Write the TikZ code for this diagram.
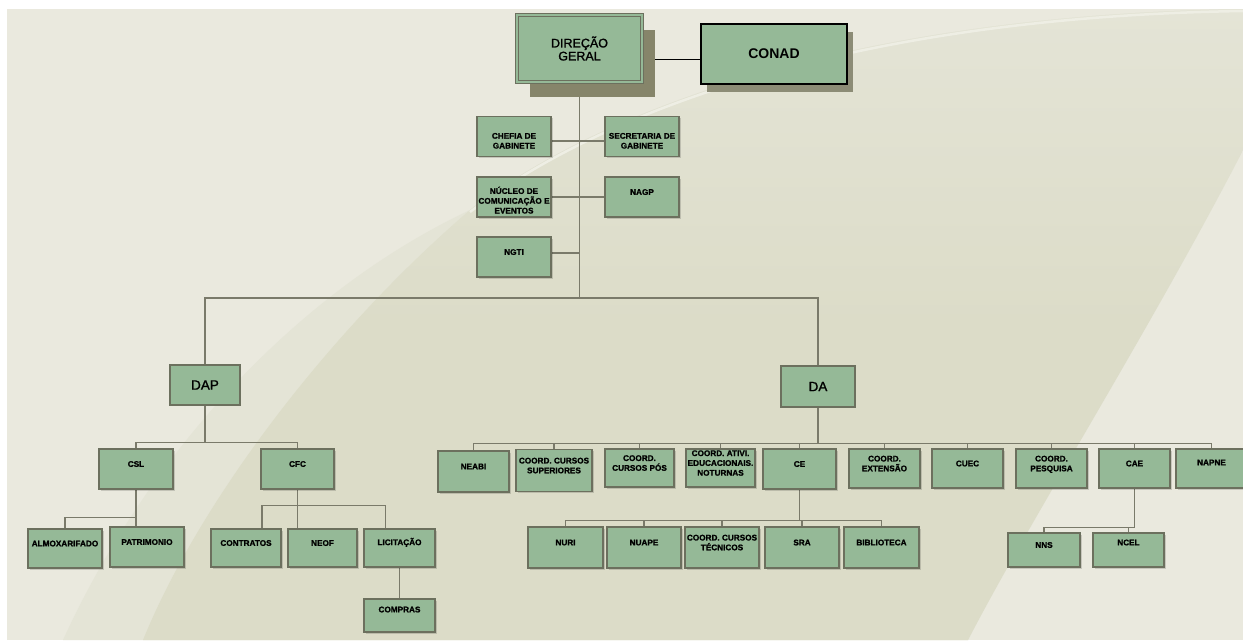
\documentclass[tikz,border=0pt]{standalone}
\usepackage{fontspec}
\setmainfont{Liberation Sans}
\newfontfamily\heavyfont{Liberation Sans}[BoldFeatures={FakeBold=1.2}]
\newfontfamily\semifont{Liberation Sans}[FakeBold=1.4]
\usetikzlibrary{positioning, calc, shadows}
\definecolor{boxgreen}{RGB}{149, 185, 151}
\definecolor{boxedge}{RGB}{108, 112, 94}
\definecolor{linkgray}{RGB}{122, 122, 106}
\definecolor{dgshade}{RGB}{134, 133, 106}
\definecolor{conadshade}{RGB}{140, 140, 118}
\definecolor{bgbase}{RGB}{234, 233, 222}
\definecolor{bgmid}{RGB}{228, 228, 214}
\definecolor{bgdark}{RGB}{220, 220, 200}
\definecolor{bghigh}{RGB}{238, 238, 228}
\pgfdeclarelayer{bg}
\pgfdeclarelayer{links}
\pgfsetlayers{bg,links,main}

\begin{document}
\begin{tikzpicture}[x=1pt, y=-1pt,
    unitbox/.style={draw=boxedge, fill=boxgreen, line width=1.1pt, rectangle, inner sep=1pt, align=center, font=\fontsize{8.2}{9.8}\selectfont\heavyfont\bfseries, text depth=10pt, minimum width=74pt, minimum height=40pt, drop shadow={shadow xshift=1.5pt, shadow yshift=-1.5pt, fill=black, opacity=0.15}},
    lowtext/.style={text depth=0pt, text height=#1},
    headbox/.style={draw=boxedge, fill=boxgreen, line width=1.1pt, rectangle, align=center, font=\fontsize{13.5}{14}\selectfont\semifont, minimum width=72pt, minimum height=41pt},
    dgbox/.style={draw=boxedge, double=boxgreen, double distance=2.6pt, line width=1.1pt, fill=boxgreen, align=center, font=\fontsize{12.5}{13}\selectfont\semifont, minimum width=125pt, minimum height=67pt, drop shadow={shadow xshift=13pt, shadow yshift=-15pt, fill=dgshade, opacity=1}},
    conadbox/.style={draw=black, fill=boxgreen, line width=1.1pt, font=\fontsize{14}{15}\selectfont\bfseries, minimum width=146pt, minimum height=60pt, drop shadow={shadow xshift=6pt, shadow yshift=-8pt, fill=conadshade, opacity=1}},
    link/.style={draw=linkgray, line width=1.2pt},
    toplink/.style={draw=black, line width=0.9pt}
  ]
  \useasboundingbox (0,0) rectangle (1243,641);

  \node[dgbox] (dg) at (579.5,48.5) {DIREÇÃO\\GERAL};
  \node[conadbox] (conad) at (774,54) {CONAD};

  \node[unitbox, lowtext=24pt] (chefia) at (514,136.5) {CHEFIA DE\\GABINETE};
  \node[unitbox, lowtext=24pt] (secretaria) at (642,136.5) {SECRETARIA DE\\GABINETE};
  \node[unitbox, lowtext=33pt] (nucleo) at (514,197) {NÚCLEO DE\\COMUNICAÇÃO E\\EVENTOS};
  \node[unitbox] (nagp) at (642,197) {NAGP};
  \node[unitbox] (ngti) at (514,257) {NGTI};

  \node[headbox, minimum width=70pt, minimum height=40pt] (dap) at (205,385) {DAP};
  \node[headbox, minimum width=74pt] (da) at (818,386.5) {DA};

  \node[unitbox] (csl) at (136,469) {CSL};
  \node[unitbox, minimum width=73pt] (cfc) at (297.5,469) {CFC};
  \node[unitbox, minimum height=39pt] (almox) at (65,548.5) {ALMOXARIFADO};
  \node[unitbox] (patrim) at (147,547) {PATRIMONIO};
  \node[unitbox, minimum width=70pt, minimum height=38pt] (contratos) at (246,548) {CONTRATOS};
  \node[unitbox, minimum width=69pt, minimum height=38pt] (neof) at (322.5,548) {NEOF};
  \node[unitbox, minimum width=71pt, minimum height=38pt, text depth=13pt] (licit) at (399.5,548) {LICITAÇÃO};
  \node[unitbox, minimum width=71pt, minimum height=33pt, text depth=12pt] (compras) at (399.5,615.5) {COMPRAS};

  \node[unitbox, minimum width=71pt, minimum height=41pt] (neabi) at (473.5,471.5) {NEABI};
  \node[unitbox, minimum width=76pt, minimum height=42pt] (cursossup) at (554,470.5) {COORD. CURSOS\\SUPERIORES};
  \node[unitbox, minimum width=69pt, minimum height=38pt] (cursospos) at (639.5,468) {COORD.\\CURSOS PÓS};
  \node[unitbox, minimum width=69pt, minimum height=38pt] (noturnas) at (720.5,468) {COORD. ATIVI.\\EDUCACIONAIS.\\NOTURNAS};
  \node[unitbox, minimum width=73pt] (ce) at (799.5,469) {CE};
  \node[unitbox, minimum width=71pt, minimum height=39pt] (extensao) at (884.5,468.5) {COORD.\\EXTENSÃO};
  \node[unitbox, minimum width=71pt, minimum height=39pt] (cuec) at (967.5,468.5) {CUEC};
  \node[unitbox, minimum width=71pt, minimum height=39pt] (pesquisa) at (1051.5,468.5) {COORD.\\PESQUISA};
  \node[unitbox, minimum width=71pt, minimum height=39pt] (cae) at (1134.5,468.5) {CAE};
  \node[unitbox, minimum width=71pt, minimum height=39pt, text depth=12pt] (napne) at (1211.5,468.5) {NAPNE};

  \node[unitbox, minimum width=75pt, minimum height=41pt] (nuri) at (565.5,547.5) {NURI};
  \node[unitbox, minimum height=41pt] (nuape) at (644,547.5) {NUAPE};
  \node[unitbox, minimum height=41pt] (tecnicos) at (722,547.5) {COORD. CURSOS\\TÉCNICOS};
  \node[unitbox, minimum height=41pt] (sra) at (802,547.5) {SRA};
  \node[unitbox, minimum width=75pt, minimum height=41pt] (biblioteca) at (881.5,547.5) {BIBLIOTECA};
  \node[unitbox, minimum width=72pt, minimum height=34pt] (nns) at (1044,550) {NNS};
  \node[unitbox, minimum width=71pt, minimum height=34pt, text depth=15pt] (ncel) at (1128.5,550) {NCEL};

  \coordinate (hub) at (579.5,298);

  \begin{pgfonlayer}{bg}
    \fill[white] (0,0) rectangle (1243,641);
    \fill[bgbase] (7,9) rectangle (1243,640);
    \fill[bgmid] (63,640) .. controls (150,450) and (300,290) .. (470,210) .. controls (600,110) and (850,15) .. (1243,9) -- (1243,150) .. controls (1150,330) and (1030,520) .. (968,640) -- cycle;
    \shade[top color=bgmid, bottom color=bgdark, middle color=bgdark] (143,640) .. controls (200,500) and (330,330) .. (470,210) .. controls (600,110) and (850,15) .. (1243,9) -- (1243,150) .. controls (1150,330) and (1030,520) .. (968,640) -- cycle;
    \draw[bghigh, line width=2.5pt] (470,212) .. controls (600,112) and (850,17) .. (1243,11);
  \end{pgfonlayer}

  \begin{pgfonlayer}{links}
    \draw[toplink] ([yshift=-5pt]conad.west) -- ([yshift=-5pt]conad.west -| dg.east);
    \draw[link] (dg.south) -- (hub);
    \draw[link] ([yshift=-4.5pt]chefia.east) -- ([yshift=-4.5pt]secretaria.west);
    \draw[link] (nucleo.east) -- (nagp.west);
    \draw[link] ([yshift=4pt]ngti.east) -- ([yshift=4pt]ngti.east -| hub);
    \draw[link] (dap.north) |- (hub) -| (da.north);

    \draw[link] (dap.south) -- ++(0,37) -| (csl.north) (dap.south) ++(0,37) -| (cfc.north);
    \draw[link] (csl.south) -- ++(0,28) -| (almox.north) (csl.south) ++(0,28) -| ([xshift=-11pt]patrim.north);
    \draw[link] (cfc.south) -- (cfc.south |- neof.north);
    \draw[link] (cfc.south) ++(0,16) -| ([xshift=16pt]contratos.north) (cfc.south) ++(0,16) -| ([xshift=-14pt]licit.north);
    \draw[link] (licit.south) -- (compras.north);

    \draw[link] (da.south) -- ++(0,36);
    \foreach \unit in {neabi, cursossup, cursospos, noturnas, ce, extensao, cuec, pesquisa, cae, napne}
      \draw[link] (da.south) ++(0,36) -| (\unit.north);
    \draw[link] (ce.south) -- ++(0,31);
    \foreach \unit in {nuri, nuape, tecnicos, sra, biblioteca}
      \draw[link] (ce.south) ++(0,31) -| (\unit.north);
    \draw[link] (cae.south) -- ++(0,39);
    \foreach \unit in {nns, ncel}
      \draw[link] (cae.south) ++(0,39) -| (\unit.north);
  \end{pgfonlayer}
\end{tikzpicture}
\end{document}
